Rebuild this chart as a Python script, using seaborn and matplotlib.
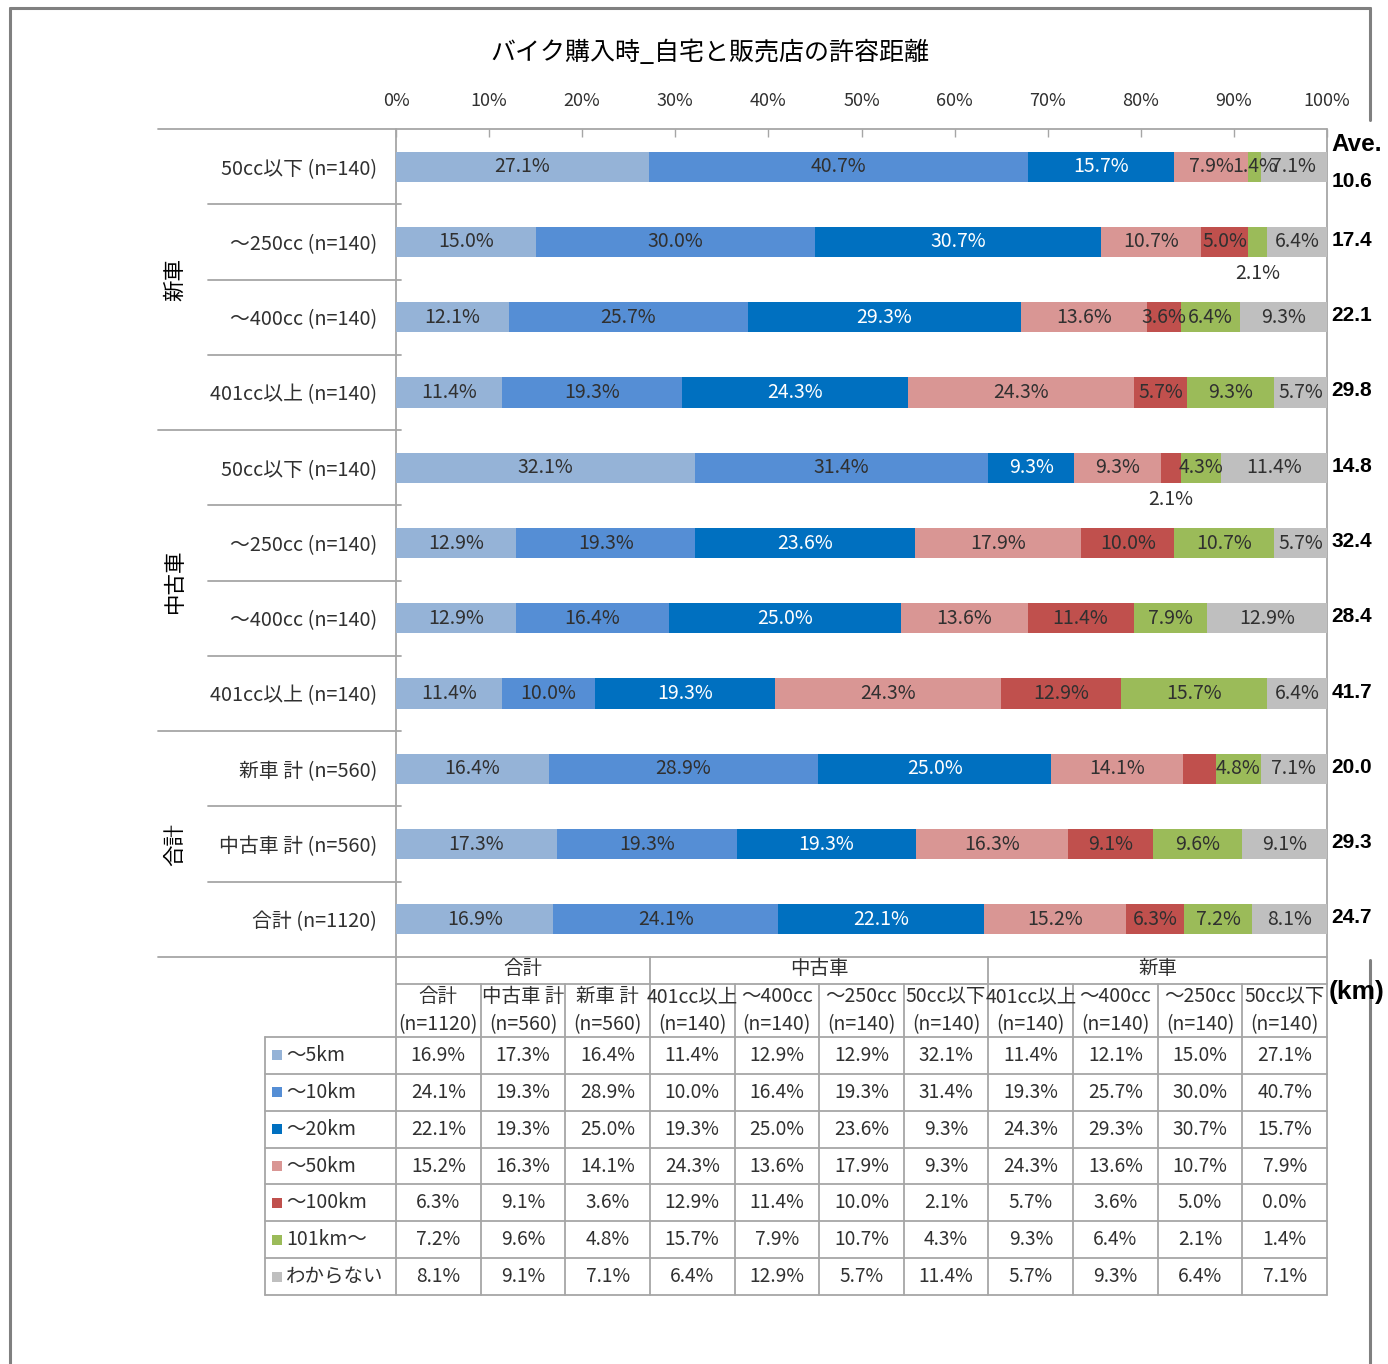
import numpy as np
import pandas as pd
import matplotlib
matplotlib.use("Agg")
import matplotlib.pyplot as plt
from matplotlib.patches import Rectangle
import seaborn as sns

title = "バイク購入時_自宅と販売店の許容距離"

groups = ["新車"] * 4 + ["中古車"] * 4 + ["合計"] * 3
row_labels = ["50cc以下 (n=140)", "～250cc (n=140)", "～400cc (n=140)", "401cc以上 (n=140)",
              "50cc以下 (n=140)", "～250cc (n=140)", "～400cc (n=140)", "401cc以上 (n=140)",
              "新車 計 (n=560)", "中古車 計 (n=560)", "合計 (n=1120)"]
series = ["～5km", "～10km", "～20km", "～50km", "～100km", "101km～", "わからない"]

# values per distance class, rows top -> bottom
km5 = [27.1, 15.0, 12.1, 11.4, 32.1, 12.9, 12.9, 11.4, 16.4, 17.3, 16.9]
km10 = [40.7, 30.0, 25.7, 19.3, 31.4, 19.3, 16.4, 10.0, 28.9, 19.3, 24.1]
km20 = [15.7, 30.7, 29.3, 24.3, 9.3, 23.6, 25.0, 19.3, 25.0, 19.3, 22.1]
km50 = [7.9, 10.7, 13.6, 24.3, 9.3, 17.9, 13.6, 24.3, 14.1, 16.3, 15.2]
km100 = [0.0, 5.0, 3.6, 5.7, 2.1, 10.0, 11.4, 12.9, 3.6, 9.1, 6.3]
km101 = [1.4, 2.1, 6.4, 9.3, 4.3, 10.7, 7.9, 15.7, 4.8, 9.6, 7.2]
unknown = [7.1, 6.4, 9.3, 5.7, 11.4, 5.7, 12.9, 6.4, 7.1, 9.1, 8.1]
ave = [10.6, 17.4, 22.1, 29.8, 14.8, 32.4, 28.4, 41.7, 20.0, 29.3, 24.7]

# table columns run bottom -> top of the chart
tbl_groups = ["合計", "中古車", "新車"]
tbl_names = ["合計", "中古車 計", "新車 計", "401cc以上", "～400cc", "～250cc", "50cc以下",
             "401cc以上", "～400cc", "～250cc", "50cc以下"]
tbl_n = ["(n=1120)", "(n=560)", "(n=560)"] + ["(n=140)"] * 8

colors = ["#95B3D7", "#558ED5", "#0070C0", "#D99694", "#C0504D", "#9BBB59", "#BFBFBF"]
dark = "#303030"
txt_colors = [dark, dark, "white", dark, dark, dark, dark]
line_c = "#A6A6A6"

sns.set_style("white")
plt.rcParams['font.family'] = ['Noto Sans CJK JP', 'DejaVu Sans']

W, H = 1388, 1364
fig = plt.figure(figsize=(W / 100, H / 100), dpi=100)

# overlay in pixel coordinates for frame, separators and table
ov = fig.add_axes([0, 0, 1, 1], zorder=0)
ov.set_xlim(0, W)
ov.set_ylim(H, 0)
ov.axis("off")

x0, x1, y0, y1 = 396, 1327, 129, 957
ax = fig.add_axes([x0 / W, 1 - y1 / H, (x1 - x0) / W, (y1 - y0) / H], zorder=2)
ax.patch.set_alpha(0)

vals = np.array([km5, km10, km20, km50, km100, km101, unknown])
vals_n = vals / vals.sum(axis=0) * 100
cum = vals_n.cumsum(axis=0)
keys = [f"{g}|{i}" for i, g in enumerate(groups)]
df = pd.DataFrame({"key": keys})

# stacked bars: draw cumulative totals from the last class back to the first
for i in range(6, -1, -1):
    sns.barplot(x=cum[i], y=df["key"], order=keys, orient="h", color=colors[i],
                saturation=1, width=0.4, linewidth=0, ax=ax)

ax.set_xlim(0, 100)
ax.set_ylim(10.5, -0.5)
for s in ax.spines.values():
    s.set_visible(False)
ax.set_xlabel("")
ax.set_ylabel("")
ax.xaxis.tick_top()
ax.set_xticks(range(0, 101, 10))
ax.set_xticklabels([f"{t}%" for t in range(0, 101, 10)])
ax.tick_params(axis="x", direction="in", length=6, width=1, color=line_c, pad=14,
               labelsize=13, labelcolor=dark)
ax.set_yticks(range(11))
ax.set_yticklabels(row_labels)
ax.tick_params(axis="y", length=0, pad=13.5, labelsize=14.3, labelcolor=dark)

# segment labels
hidden = {(4, 0), (4, 8)}
below = {(5, 1), (4, 4)}
for i in range(7):
    for r in range(11):
        v = vals[i, r]
        if v == 0 or (i, r) in hidden:
            continue
        xc = cum[i, r] - vals_n[i, r] / 2
        if (i, r) in below:
            ax.text(xc, r + 0.42, f"{v:.1f}%", ha="center", va="center",
                    fontsize=14, color=dark)
        else:
            ax.text(xc, r, f"{v:.1f}%", ha="center", va="center",
                    fontsize=14, color=txt_colors[i])

# averages
yt = ax.get_yaxis_transform()
ax.text(1.005, -0.3, "Ave.", transform=yt, ha="left", va="center", fontsize=17.5,
        fontweight="bold", family="Liberation Sans", color="black", clip_on=False)
for r, a in enumerate(ave):
    ax.text(1.005, r + (0.2 if r == 0 else -0.02), f"{a:.1f}", transform=yt, ha="left",
            va="center", fontsize=15, fontweight="bold", family="Liberation Sans",
            color="black", clip_on=False)

# title
ov.text(710, 53, title, ha="center", va="center", fontsize=18, color="black")

# outer frame
fc = "#808080"
ov.plot([10, 10], [8, H], color=fc, lw=2.2)
ov.plot([10, 1370], [8, 8], color=fc, lw=2.2)
ov.plot([1370, 1370], [8, 120], color=fc, lw=2.2)
ov.plot([1370, 1370], [960, H], color=fc, lw=2.2)

# chart grid lines
row_h = (y1 - y0) / 11
ov.plot([158, x1], [y0, y0], color=line_c, lw=1.3)
for k in range(1, 11):
    y = y0 + k * row_h
    xs = 158 if k in (4, 8) else 208
    ov.plot([xs, 401], [y, y], color=line_c, lw=1.3)
ov.plot([158, x1], [y1, y1], color=line_c, lw=1.3)
ov.plot([x0, x0], [y0, 1295], color=line_c, lw=1.3)
ov.plot([x1, x1], [y0, 1295], color=line_c, lw=1.3)

# group labels
for g, (ya, yb) in zip(["新車", "中古車", "合計"], [(0, 4), (4, 8), (8, 11)]):
    ov.text(175, y0 + (ya + yb) / 2 * row_h, g, rotation=90, ha="center", va="center",
            fontsize=15.5, color="black")

# data table
col_x = np.linspace(x0, x1, 12)
row_y = np.linspace(1037, 1295, 8)
ov.plot([x0, x1], [984, 984], color=line_c, lw=1.3)
for y in row_y:
    ov.plot([265, x1], [y, y], color=line_c, lw=1.3)
ov.plot([265, 265], [1037, 1295], color=line_c, lw=1.3)
for j, x in enumerate(col_x[1:-1], start=1):
    top = y1 if j in (3, 7) else 984
    ov.plot([x, x], [top, 1295], color=line_c, lw=1.3)

spans = [(0, 3), (3, 7), (7, 11)]
for g, (a, b) in zip(tbl_groups, spans):
    ov.text((col_x[a] + col_x[b]) / 2, 969, g, ha="center", va="center", fontsize=14,
            color=dark)
tbl_vals = vals[:, ::-1]
for j in range(11):
    xc = (col_x[j] + col_x[j + 1]) / 2
    ov.text(xc, 997, tbl_names[j], ha="center", va="center", fontsize=14, color=dark)
    ov.text(xc, 1025, tbl_n[j], ha="center", va="center", fontsize=14, color=dark)
    for i in range(7):
        yc = (row_y[i] + row_y[i + 1]) / 2
        ov.text(xc, yc, f"{tbl_vals[i, j]:.1f}%", ha="center", va="center",
                fontsize=13.8, color=dark)
for i, s in enumerate(series):
    yc = (row_y[i] + row_y[i + 1]) / 2
    ov.add_patch(Rectangle((272, yc - 5), 10, 10, color=colors[i], lw=0))
    ov.text(286, yc, s, ha="left", va="center", fontsize=14, color=dark)

ov.text(1329, 992, "(km)", ha="left", va="center", fontsize=19, fontweight="bold",
        family="Liberation Sans", color="black")

fig.savefig("out.png", dpi=100)
